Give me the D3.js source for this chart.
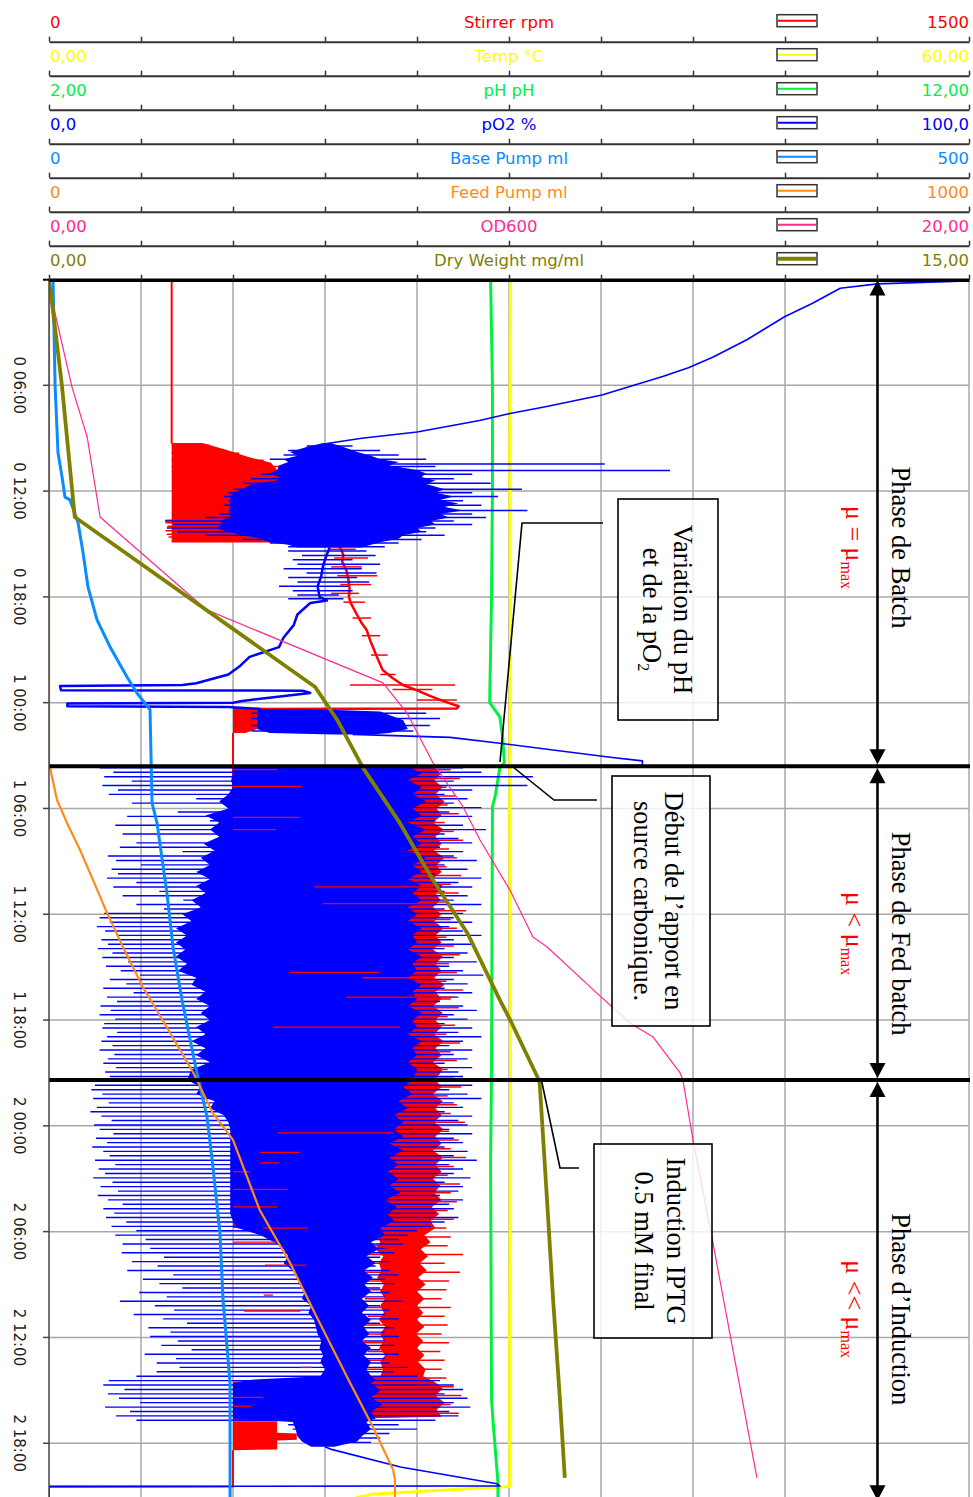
<!DOCTYPE html>
<html>
<head>
<meta charset="utf-8">
<script src="https://cdn.jsdelivr.net/npm/d3@7"></script>
<style>
  body { margin: 0; background: #fff; }
  svg { display: block; }
</style>
</head>
<body>
<div id="chart"></div>
<script>
// ---- series definitions (top scale rows) ----
const seriesNames = ["Stirrer rpm", "Temp °C", "pH pH", "pO2 %", "Base Pump ml", "Feed Pump ml", "OD600", "Dry Weight mg/ml"];
const seriesMin = [0, 0, 2, 0, 0, 0, 0, 0];
const seriesMax = [1500, 60, 12, 100, 500, 1000, 20, 15];
const minLabels = ["0", "0,00", "2,00", "0,0", "0", "0", "0,00", "0,00"];
const maxLabels = ["1500", "60,00", "12,00", "100,0", "500", "1000", "20,00", "15,00"];
const seriesColors = ["#ff0000", "#ffff00", "#00f040", "#0000ff", "#0a8cff", "#ff8a1c", "#ff2a94", "#808000"];

// time axis (hours from start)
const timeTickHours = [6, 12, 18, 24, 30, 36, 42, 48, 54, 60, 66];
const timeTickLabels = ["0 06:00", "0 12:00", "0 18:00", "1 00:00", "1 06:00", "1 12:00", "1 18:00", "2 00:00", "2 06:00", "2 12:00", "2 18:00"];
const phaseBounds = [0, 27.6, 45.4, 69.35];
const phaseNames = ["Phase de Batch", "Phase de Fed batch", "Phase d\u2019Induction"];
const phaseRates = [" = ", " < ", " << "];
const phaseLabelHours = [15.2, 37.1, 58.4];

// ---- Stirrer (rpm) ----
const stirrerSteady = [[0, 200], [9.3, 200]];
const stirrerBandBatch = [[9.27, 200, 250], [9.67, 200, 290], [10.06, 200, 325], [10.4, 200, 362], [10.8, 200, 372], [11.5, 200, 380], [14.5, 200, 380], [14.87, 200, 400]];
const stirrerSpikesBatch = [[9.4, 200, 262], [9.85, 200, 310], [10.25, 200, 350], [10.6, 200, 376], [13.65, 191, 300], [13.8, 190, 330], [14.0, 193, 260], [14.25, 190, 310], [14.45, 192, 350], [14.6, 195, 280], [14.87, 200, 395]];
const stirrerRamp = [[14.87, 400], [14.95, 470], [15.3, 476], [15.62, 480], [16.0, 478], [16.5, 485], [17.0, 488], [17.5, 490], [18.0, 489], [18.35, 492], [19.0, 502], [19.5, 510], [19.88, 518], [20.5, 524], [21.0, 530], [21.6, 537], [22.15, 544], [22.6, 560], [23.0, 577], [23.3, 600], [23.6, 620], [23.9, 642], [24.2, 668], [24.33, 665], [24.36, 300]];
const stirrerSpikesRamp = [[15.3, 455, 500], [15.8, 465, 520], [16.3, 460, 510], [16.8, 470, 535], [17.3, 475, 525], [17.8, 460, 505], [18.3, 480, 515], [19.2, 495, 525], [20.2, 510, 540], [21.3, 525, 552], [22.4, 540, 565], [23.0, 491, 662], [23.25, 560, 625], [23.85, 600, 665]];
const stirrerBandBlock = [[24.36, 300, 339], [25.5, 300, 339], [25.72, 300, 320]];
const stirrerHold = [[25.72, 300], [29.5, 300], [29.52, 339], [29.56, 300], [30.5, 300]];
const stirrerBandCycling = [
  [27.6, 300, 625], [28.0, 300, 640], [28.4, 300, 628], [28.8, 300, 642], [29.2, 300, 630], [29.6, 300, 645], [30.0, 300, 632],
  [30.4, 300, 640], [30.8, 300, 626], [31.2, 300, 643], [31.6, 300, 630], [32.0, 300, 640], [32.4, 300, 628], [32.8, 300, 645],
  [33.2, 300, 632], [33.6, 300, 640], [34.0, 300, 625], [34.4, 300, 642], [34.8, 300, 630], [35.2, 300, 638], [35.6, 300, 626],
  [36.0, 300, 640], [36.4, 300, 628], [36.8, 300, 643], [37.2, 300, 630], [37.6, 300, 640], [38.0, 300, 626], [38.4, 300, 642],
  [38.8, 300, 630], [39.2, 300, 640], [39.6, 300, 628], [40.0, 300, 645], [40.4, 300, 630], [40.8, 300, 640], [41.2, 300, 626],
  [41.6, 300, 642], [42.0, 300, 630], [42.4, 300, 640], [42.8, 300, 628], [43.2, 300, 643], [43.6, 300, 630], [44.0, 300, 640],
  [44.4, 300, 626], [44.8, 300, 642], [45.4, 300, 630], [45.8, 300, 640], [46.2, 300, 626], [46.6, 300, 642], [47.0, 300, 630],
  [47.4, 300, 640], [47.8, 300, 628], [48.2, 300, 643], [48.6, 300, 630], [49.0, 300, 640], [49.4, 300, 626], [49.8, 300, 642],
  [50.2, 300, 630], [50.6, 300, 640], [51.0, 300, 626], [51.4, 300, 638], [51.8, 300, 628], [52.2, 300, 640], [52.6, 300, 624],
  [53.0, 300, 636], [53.4, 300, 622], [53.8, 300, 630], [54.2, 535, 612], [54.6, 540, 622], [55.0, 532, 606], [55.4, 545, 618],
  [55.8, 538, 604], [56.2, 542, 616], [56.6, 535, 602], [57.0, 546, 614], [57.4, 540, 600], [57.8, 548, 612], [58.2, 540, 600],
  [58.6, 546, 610], [59.0, 538, 600], [59.4, 548, 612], [59.8, 540, 598], [60.2, 546, 610], [60.6, 538, 600], [61.0, 548, 612],
  [61.4, 540, 602], [61.8, 545, 614], [62.2, 540, 610], [62.5, 300, 628], [62.9, 300, 642], [63.3, 300, 630], [63.7, 300, 645],
  [64.1, 300, 632], [64.5, 300, 640], [64.7, 300, 372]
];
const stirrerSpikesCycling = [
  [27.8, 600, 655], [28.3, 590, 670], [28.8, 610, 648], [29.3, 600, 662], [29.8, 580, 650], [30.3, 605, 668],
  [30.8, 590, 645], [31.3, 610, 660], [31.8, 600, 675], [32.3, 585, 652], [32.8, 610, 665], [33.3, 600, 648],
  [33.8, 590, 672], [34.3, 605, 655], [34.8, 600, 668], [35.3, 590, 650], [35.8, 610, 680], [36.3, 600, 655],
  [36.8, 595, 665], [37.3, 605, 648], [37.8, 590, 660], [38.3, 600, 670], [38.8, 610, 652], [39.3, 595, 665],
  [39.8, 600, 648], [40.3, 605, 675], [40.8, 590, 655], [41.3, 600, 668], [41.8, 610, 650], [42.3, 595, 662],
  [42.8, 600, 648], [43.3, 605, 670], [43.8, 590, 655], [44.3, 600, 665], [44.8, 610, 650], [45.3, 595, 660],
  [45.8, 600, 672], [46.3, 605, 650], [46.8, 590, 665], [47.3, 600, 655], [47.8, 610, 678], [48.3, 595, 652],
  [48.8, 600, 668], [49.3, 605, 655], [49.8, 590, 680], [50.3, 600, 660], [50.8, 610, 650], [51.3, 595, 670],
  [51.8, 600, 655], [52.3, 605, 665], [52.8, 590, 650], [53.3, 600, 660], [53.8, 595, 648], [54.3, 590, 655],
  [54.8, 515, 650], [55.3, 510, 675], [55.8, 525, 645], [56.3, 508, 670], [56.8, 520, 652], [57.3, 505, 648],
  [57.8, 515, 640], [58.3, 510, 655], [58.8, 520, 645], [59.3, 508, 650], [59.8, 515, 640], [60.3, 510, 652],
  [60.8, 520, 638], [61.3, 508, 645], [61.8, 512, 640], [62.3, 520, 648], [62.8, 590, 660], [63.3, 600, 672],
  [63.8, 595, 655], [64.3, 600, 668]
];
const stirrerBandEnd = [[64.75, 300, 372], [65.4, 300, 372], [65.45, 300, 404], [65.8, 300, 404], [65.85, 300, 372], [66.35, 300, 372], [66.4, 300, 300]];
const stirrerTail = [[66.4, 300], [68.45, 300], [68.47, 0], [69.1, 0]];
// red strokes seen on top of the pO2 cloud
const stirrerOverlay = [[27.8, 300, 372], [28.75, 300, 412], [30.5, 300, 409], [31.2, 300, 370], [34.45, 433, 626], [35.4, 446, 626],
  [39.3, 392, 539], [39.6, 510, 626], [40.7, 485, 660], [42.4, 365, 572], [48.4, 372, 561], [49.5, 344, 409], [50.1, 344, 375],
  [50.6, 300, 328], [51.6, 300, 388], [52.6, 300, 372], [53.8, 349, 422], [54.6, 300, 370], [55.9, 352, 420], [57.6, 350, 365],
  [58.5, 318, 410], [61.7, 410, 428], [63.4, 300, 349], [63.9, 300, 330]];

// ---- Temperature (°C) ----
const tempSeries = [[0, 20], [0.03, 25], [0.06, 30.1], [10, 30.05], [20, 30.1], [30, 30.05], [45, 30.1], [60, 30.05], [68.45, 30.05], [68.6, 27], [68.9, 21], [69.1, 20]];

// ---- pH ----
const phSeries = [[0, 6.80], [6, 6.82], [12, 6.82], [18, 6.81], [24.0, 6.79], [24.8, 6.90], [25.9, 6.93], [27.4, 6.95], [27.7, 6.90], [29.3, 6.85], [29.9, 6.82], [45, 6.81], [50, 6.80], [63.5, 6.81], [65, 6.83], [68.2, 6.88], [69.1, 6.88]];

// ---- pO2 (%) ----
const pO2Decline = [[0, 100], [0.1, 99], [0.25, 90], [0.5, 86], [1.35, 83], [2.1, 80], [3.4, 75.9], [4.4, 72.2], [5.0, 69.5], [5.5, 66.7], [6.55, 60.1], [7.2, 54.1], [7.6, 50.1], [8.0, 46.8], [8.65, 40], [9.0, 34], [9.3, 30.2]];
const pO2BandBatch = [[9.27, 29.8, 30.6], [9.5, 28, 32], [9.78, 26.2, 33.5], [10.0, 27, 35], [10.2, 25.5, 36], [10.35, 26, 38], [10.55, 25, 37],
  [10.8, 24.8, 40], [11.0, 24, 41], [11.2, 25, 40.5], [11.4, 24.8, 42], [11.6, 22, 41], [11.9, 21, 43], [12.1, 20, 42], [12.3, 19.7, 44],
  [12.5, 19.7, 42.5], [12.7, 19.7, 44.5], [12.9, 19.7, 43], [13.1, 19.7, 45], [13.3, 19.7, 42.5], [13.5, 19.7, 43.5], [13.7, 18.5, 41.5],
  [13.9, 19, 42], [14.1, 18, 40], [14.3, 19.5, 40.5], [14.5, 21, 38.5], [14.7, 23, 38], [14.9, 24, 36], [15.05, 26, 35], [15.2, 27, 34]];
const pO2SpikesBatch = [
  [9.45, 28, 33], [9.7, 26, 36], [9.95, 25.5, 38], [10.2, 24, 41], [10.47, 27, 60.4], [10.6, 25, 42], [10.83, 30, 67.5],
  [11.05, 23, 46], [11.3, 22, 44], [11.55, 21, 48], [11.9, 20, 51.4], [12.1, 19.5, 46], [12.3, 19, 48.8], [12.55, 19.5, 45],
  [12.8, 19, 47], [13.1, 19.5, 52], [13.3, 18.5, 46], [13.5, 17, 47.5], [13.7, 12.6, 44], [13.9, 13.5, 46], [14.1, 12.8, 42],
  [14.3, 14, 41], [14.5, 17, 43], [14.75, 21, 40.5], [14.95, 24, 38], [15.15, 26, 36.5],
  [15.4, 26, 34.5], [15.65, 27.5, 35.5], [15.9, 26.5, 33], [16.15, 27, 36], [16.4, 25.5, 34], [16.65, 28, 35.6],
  [16.9, 26, 33.5], [17.15, 27, 34.8], [17.4, 25, 32.5], [17.65, 26.5, 33], [17.9, 27, 31.5], [18.1, 26, 32]
];
const pO2Drift = [[15.2, 30.5], [15.6, 30.2], [16.2, 29.8], [16.8, 29.6], [17.4, 29.2], [18.0, 29.4], [18.2, 30.2], [18.35, 28.4], [19.0, 27], [19.6, 26.6], [20.3, 25.5], [20.85, 25], [21.4, 21.8], [21.9, 20.8], [22.4, 19.5], [22.9, 16], [23.0, 14.5], [23.05, 1.2], [23.3, 1.3], [23.32, 27.6], [23.45, 28.4], [23.9, 21], [24.0, 20], [24.05, 2], [24.2, 2], [24.25, 19.5], [24.36, 23]];
const pO2BandBlock = [[24.36, 22.6, 28], [24.5, 22.6, 36], [25.0, 22.6, 38.5], [25.5, 22.6, 39], [25.72, 24, 37], [25.8, 31, 35]];
const pO2SpikesBlock = [[24.6, 22, 41], [24.9, 22, 42.5], [25.3, 22, 41.4], [25.6, 22, 39.6]];
const pO2Recover = [[25.8, 33], [25.97, 43.6], [26.3, 49], [26.7, 55], [27.1, 61], [27.3, 64.5], [27.55, 64.5], [27.6, 40]];
const pO2BandFed = [
  [27.6, 20, 39], [28.0, 20, 40.5], [28.4, 19.8, 39], [28.8, 20, 40.5], [29.2, 19.5, 39.5], [29.6, 18.5, 41], [30.0, 19.5, 39.5],
  [30.4, 17, 40.5], [30.8, 18.5, 39], [31.2, 17.5, 41], [31.6, 18.5, 39.5], [32.0, 16.8, 40.5], [32.4, 18, 39], [32.8, 16.5, 41],
  [33.2, 17.5, 39.5], [33.6, 16, 40.5], [34.0, 17.5, 39], [34.4, 16, 40.5], [34.8, 17, 39.5], [35.2, 15.5, 40.5], [35.6, 16.5, 39],
  [36.0, 14.5, 40], [36.4, 15.5, 39], [36.8, 13.8, 40.5], [37.2, 15, 39.5], [37.6, 13.8, 40], [38.0, 14.8, 39], [38.4, 13.8, 40.5],
  [38.8, 15, 39.5], [39.2, 14, 40], [39.6, 16, 39], [40.0, 15.5, 40.5], [40.4, 17, 39.5], [40.8, 16, 40], [41.2, 17.5, 39],
  [41.6, 16.5, 40.5], [42.0, 17.5, 39.5], [42.4, 16, 40], [42.8, 17, 39], [43.2, 15.5, 40.5], [43.6, 17, 39.5], [44.0, 16, 40],
  [44.4, 17.5, 39], [44.8, 15.5, 40], [45.4, 15, 39.5]
];
const pO2SpikesFed = [
  [27.7, 5.5, 45], [27.95, 7, 47], [28.2, 6, 52.6], [28.45, 9, 44], [28.7, 5.8, 52], [28.95, 7.5, 46], [29.2, 6.5, 43],
  [29.45, 16, 45.5], [29.7, 9, 44], [29.95, 20, 47], [30.2, 14, 43.5], [30.45, 8.5, 46], [30.7, 17.5, 42], [30.95, 7.2, 45],
  [31.2, 12, 47.5], [31.45, 8, 43], [31.7, 19, 44.5], [31.95, 9.5, 46], [32.2, 7.7, 42.5], [32.45, 14.5, 45], [32.7, 6.4, 44],
  [32.95, 7.3, 46.5], [33.2, 10, 43], [33.45, 6.8, 45.5], [33.7, 7.5, 42], [33.95, 6.3, 47], [34.2, 9.5, 44.5], [34.45, 7, 46],
  [34.7, 12, 43], [34.95, 8, 45.5], [35.2, 14.6, 44], [35.45, 9.5, 47], [35.7, 12.5, 43], [35.95, 6, 45], [36.2, 5.5, 44],
  [36.45, 6.6, 46], [36.7, 5.2, 43.5], [36.95, 6.1, 45], [37.2, 7.5, 47], [37.45, 5.7, 44], [37.7, 6.4, 46], [37.95, 5.3, 43],
  [38.2, 6.9, 45.5], [38.45, 5.8, 44], [38.7, 8.6, 46.5], [38.95, 6.2, 43.5], [39.2, 7.8, 45], [39.45, 9.9, 47.2], [39.7, 6.6, 44],
  [39.95, 8.4, 45.5], [40.2, 5.9, 43], [40.45, 9.2, 46], [40.7, 6.3, 44.5], [40.95, 7.4, 42.5], [41.2, 5.6, 45], [41.45, 6.7, 46.5],
  [41.7, 5.5, 44], [41.95, 7.2, 45.5], [42.2, 6.0, 43], [42.45, 5.8, 46], [42.7, 7.4, 44.5], [42.95, 6.3, 47], [43.2, 5.7, 45],
  [43.45, 6.9, 43.5], [43.7, 5.5, 46], [43.95, 7.1, 44], [44.2, 6.4, 45.5], [44.45, 5.9, 43], [44.7, 7.3, 46], [44.95, 6.1, 44.5],
  [45.2, 6.6, 45]
];
const pO2BandInd = [
  [45.4, 15, 39.5], [45.8, 16.5, 38.5], [46.2, 16, 39.5], [46.6, 18, 38], [47.0, 17.5, 39], [47.4, 19, 37.5], [47.8, 19.5, 38.5],
  [48.2, 19.7, 37.5], [48.6, 19.7, 38.5], [49.0, 19.7, 37], [49.4, 19.7, 38.5], [49.8, 19.7, 37], [50.2, 19.7, 38], [50.6, 19.7, 36.8],
  [51.0, 19.7, 38], [51.4, 19.7, 37], [51.8, 19.7, 38.2], [52.2, 19.7, 36.5], [52.6, 19.7, 37.8], [53.0, 19.7, 36.8], [53.4, 20, 37.5],
  [53.8, 20.5, 36], [54.2, 23, 36.5], [54.6, 24.5, 35], [55.0, 25.5, 35.8], [55.4, 26, 34.5], [55.8, 25.5, 35.5], [56.2, 26.5, 34.2],
  [56.6, 27, 35.2], [57.0, 27.2, 34.3], [57.4, 27.8, 35], [57.8, 27.5, 34], [58.2, 28.5, 34.8], [58.6, 28.2, 34], [59.0, 28.8, 35],
  [59.4, 29, 34.2], [59.8, 29.2, 34.8], [60.2, 29.6, 34], [60.6, 29.4, 35], [61.0, 29.8, 34.2], [61.4, 29.5, 35], [61.8, 30, 34.5],
  [62.2, 29.5, 35], [62.4, 22, 35.5], [62.6, 20, 35], [63.0, 20, 36], [63.4, 20, 35], [63.8, 20, 36.2], [64.2, 20, 35], [64.6, 20, 35.5],
  [64.8, 26.5, 34.5], [65.2, 26.8, 35], [65.6, 27, 34], [65.9, 27.5, 33.5], [66.2, 28.5, 31]
];
const pO2SpikesInd = [
  [45.45, 6.2, 44], [45.7, 5.0, 46], [45.95, 4.6, 43.5], [46.2, 5.8, 45.5], [46.45, 4.8, 47], [46.7, 6.5, 44], [46.95, 5.2, 45],
  [47.2, 4.5, 43], [47.45, 5.7, 46], [47.7, 6.8, 44.5], [47.95, 4.9, 45.5], [48.2, 5.5, 43.5], [48.45, 7.0, 46], [48.7, 5.1, 44],
  [48.95, 6.3, 45], [49.2, 4.7, 43], [49.45, 5.9, 45.5], [49.7, 6.6, 44], [49.95, 5.0, 46.5], [50.2, 7.2, 43.5], [50.45, 5.4, 45],
  [50.7, 6.1, 44], [50.95, 4.8, 45.8], [51.2, 6.9, 43], [51.45, 5.6, 45], [51.7, 7.5, 44.5], [51.95, 5.3, 42.5], [52.2, 6.4, 45],
  [52.45, 8.0, 43.5], [52.7, 5.9, 44], [52.95, 7.1, 42], [53.2, 6.2, 44.5], [53.45, 8.4, 43], [53.7, 6.8, 41.5], [53.95, 9.5, 40],
  [54.2, 7.2, 39], [54.45, 10.5, 38], [54.7, 8.0, 38.5], [54.95, 11.0, 36.5], [55.2, 7.9, 37.5], [55.45, 12.5, 36], [55.7, 9.0, 37],
  [55.95, 11.8, 35.5], [56.2, 8.5, 37], [56.45, 13.5, 38], [56.7, 10.2, 36.5], [56.95, 12.0, 37.5], [57.2, 14.5, 36], [57.45, 9.8, 37],
  [57.7, 12.8, 36.5], [57.95, 7.7, 38.5], [58.2, 11.5, 36], [58.45, 13.6, 37], [58.7, 9.2, 36.5], [58.95, 12.4, 38], [59.2, 15.0, 36],
  [59.45, 10.8, 37.5], [59.7, 13.2, 36.5], [59.95, 11.0, 38], [60.2, 14.0, 36.5], [60.45, 12.2, 37.5], [60.7, 15.5, 36],
  [60.95, 10.4, 38], [61.2, 13.8, 36.5], [61.45, 11.7, 37], [61.7, 14.2, 39], [61.95, 11.7, 37.5], [62.2, 9.5, 40], [62.45, 6.5, 42.5],
  [62.7, 5.9, 44], [62.95, 8.2, 45], [63.2, 6.4, 43], [63.45, 7.6, 45.5], [63.7, 9.9, 44], [63.95, 6.1, 45.8], [64.2, 8.8, 43.5],
  [64.45, 7.3, 44.5], [64.7, 9.5, 42], [64.95, 26, 38], [65.2, 26.5, 40], [65.45, 27, 37], [65.7, 27.5, 36], [65.95, 28, 35]
];
const pO2Tail = [[66.2, 30], [66.35, 30.7], [67.35, 38.2], [68.3, 48.7], [68.42, 49], [68.45, 0], [69.1, 0]];

// ---- Base pump (ml) ----
const basePump = [[0, 2.2], [6.0, 3.3], [9.84, 4.9], [11.2, 7.1], [12.34, 8.7], [12.5, 11.4], [13.8, 15.8], [15.5, 18.5], [17.44, 21.2], [19.3, 26.1], [20.84, 33.2], [22.54, 42.4], [23.45, 47.8], [24.25, 53.8], [24.4, 54.9], [29.69, 56.0], [30.82, 58.7], [34.8, 64.1], [37.86, 67.4], [40.86, 72.3], [45.0, 80.4], [47.5, 85.9], [50.33, 89.1], [54.07, 92.9], [57.87, 94.6], [62.58, 98.4], [69.1, 98.4]];

// ---- Feed pump (ml) ----
const feedPump = [[0, 0], [27.6, 0], [27.65, 1.1], [28.5, 4.5], [29.52, 8.7], [30.82, 19.6], [32.35, 33.7], [34.05, 47.8], [35.92, 63], [37.86, 80.4], [40.13, 102], [42.4, 128], [45.0, 157], [47.27, 178], [48.8, 200], [52.77, 229], [55.77, 262], [58.84, 291], [62.24, 324], [65.07, 352], [67.5, 374], [68.07, 376], [69.1, 376]];

// ---- OD600 ----
const od600 = [[0, 0], [1.9, 0.13], [6.1, 0.5], [8.93, 0.83], [13.47, 1.11], [18.74, 3.43], [22.88, 7.26], [24.58, 7.78], [27.42, 8.35], [29.9, 9.0], [31.79, 9.37], [34.63, 10.02], [37.29, 10.52], [37.86, 10.83], [40.47, 11.91], [42.17, 12.63], [42.96, 13.13], [45.0, 13.72], [45.4, 13.78], [48.8, 14.0], [53.74, 14.37], [59.75, 14.8], [67.97, 15.39]];

// ---- Dry weight (mg/ml) ----
const dryWeight = [[0, 0], [1.33, 0.05], [6.0, 0.21], [13.47, 0.42], [23.11, 4.34], [24.98, 4.70], [27.7, 5.12], [30.82, 5.72], [34.06, 6.26], [37.06, 6.82], [40.86, 7.35], [42.0, 7.52], [45.2, 7.96], [45.57, 8.0], [52.2, 8.12], [57.9, 8.22], [63.5, 8.33], [67.97, 8.41]];

// ---------------------------------------------------------------
const W = 973, H = 1497;
const X0 = 49, X1 = 969, TOP = 279.5;
const tMax = 69.05;

const svg = d3.select("#chart").append("svg")
  .attr("width", W).attr("height", H)
  .attr("viewBox", [0, 0, W, H])
  .style("background", "white")
  .style("font-family", "'DejaVu Sans', sans-serif");

const y = d3.scaleLinear().domain([0, tMax]).range([TOP, H]);
const sx = seriesMin.map((m, i) => d3.scaleLinear().domain([m, seriesMax[i]]).range([X0, X1]));
const [xStir, xTemp, xPH, xPO2, xBase, xFeed, xOD, xDW] = sx;
const gridX = d3.scaleLinear().domain([0, 10]).range([X0, X1]);

// grid
const grid = svg.append("g").attr("stroke", "#a8a8a8").attr("stroke-width", 1.5);
grid.selectAll(".gv").data(d3.range(1, 11)).join("line")
  .attr("x1", d => gridX(d)).attr("x2", d => gridX(d))
  .attr("y1", TOP).attr("y2", H);
grid.selectAll(".gh").data(timeTickHours).join("line")
  .attr("x1", X0).attr("x2", X1)
  .attr("y1", d => y(d)).attr("y2", d => y(d));

// data layer
svg.append("clipPath").attr("id", "plotclip")
  .append("rect").attr("x", X0).attr("y", TOP).attr("width", X1 - X0 + 3).attr("height", H - TOP);
const plot = svg.append("g").attr("clip-path", "url(#plotclip)");

const lineOf = sc => d3.line().x(d => sc(d[1])).y(d => y(d[0]));
const bandOf = sc => d3.area().y(d => y(d[0])).x0(d => sc(d[1])).x1(d => sc(d[2]));

function trace(data, sc, color, w) {
  plot.append("path").datum(data)
    .attr("fill", "none").attr("stroke", color).attr("stroke-width", w)
    .attr("stroke-linejoin", "round")
    .attr("d", lineOf(sc));
}
function band(data, sc, color) {
  plot.append("path").datum(data).attr("fill", color).attr("d", bandOf(sc));
}
function spikes(data, sc, color, w) {
  plot.append("g").attr("stroke", color).attr("stroke-width", w)
    .selectAll("line").data(data).join("line")
    .attr("x1", d => sc(d[1])).attr("x2", d => sc(d[2]))
    .attr("y1", d => y(d[0])).attr("y2", d => y(d[0]));
}

// stirrer (drawn first, under pO2)
const red = seriesColors[0];
trace(stirrerSteady, xStir, red, 2);
band(stirrerBandBatch, xStir, red);
spikes(stirrerSpikesBatch, xStir, red, 1.5);
trace(stirrerRamp, xStir, red, 2.5);
spikes(stirrerSpikesRamp, xStir, red, 1.5);
band(stirrerBandBlock, xStir, red);
trace(stirrerHold, xStir, red, 2);
band(stirrerBandCycling, xStir, red);
spikes(stirrerSpikesCycling, xStir, red, 1.5);
band(stirrerBandEnd, xStir, red);
trace(stirrerTail, xStir, red, 2);

// temperature and pH
trace(tempSeries, xTemp, seriesColors[1], 3);
trace(phSeries, xPH, seriesColors[2], 3);

// pO2
const blue = seriesColors[3];
trace(pO2Decline, xPO2, blue, 1.6);
band(pO2BandBatch, xPO2, blue);
spikes(pO2SpikesBatch, xPO2, blue, 1.5);
trace(pO2Drift, xPO2, blue, 2.5);
band(pO2BandBlock, xPO2, blue);
spikes(pO2SpikesBlock, xPO2, blue, 1.5);
trace(pO2Recover, xPO2, blue, 1.6);
band(pO2BandFed, xPO2, blue);
spikes(pO2SpikesFed, xPO2, blue, 1.4);
band(pO2BandInd, xPO2, blue);
spikes(pO2SpikesInd, xPO2, blue, 1.4);
trace(pO2Tail, xPO2, blue, 1.6);

spikes(stirrerOverlay, xStir, red, 1.3);

// pumps, OD, dry weight
trace(basePump, xBase, seriesColors[4], 3);
trace(feedPump, xFeed, seriesColors[5], 2.2);
trace(od600, xOD, seriesColors[6], 1.2);
trace(dryWeight, xDW, seriesColors[7], 3.8);

// ---- annotations ----
const serif = "'Liberation Serif', 'Times New Roman', serif";
const notes = [
  { box: [618, 499, 100, 221], leader: [[603, 523], [522, 523], [500, 762]], lines: [["Variation du pH", 674], ["et de la pO", 643, "2"]], cy: 609.5 },
  { box: [612, 776, 98, 250], leader: [[597, 800], [554, 800], [513, 767]], lines: [["Début de l\u2019apport en", 665], ["source carbonique.", 634]], cy: 901 },
  { box: [594, 1144, 118, 194], leader: [[579, 1168], [560, 1168], [541, 1078]], lines: [["Induction IPTG", 667], ["0.5 mM final", 635]], cy: 1241 }
];
const ann = svg.append("g");
notes.forEach(n => {
  ann.append("rect")
    .attr("x", n.box[0]).attr("y", n.box[1]).attr("width", n.box[2]).attr("height", n.box[3])
    .attr("fill", "white").attr("fill-opacity", 0.82)
    .attr("stroke", "black").attr("stroke-width", 1.6);
  ann.append("path").attr("d", d3.line()(n.leader))
    .attr("fill", "none").attr("stroke", "black").attr("stroke-width", 1.6);
  n.lines.forEach(l => {
    const t = ann.append("text")
      .attr("transform", `translate(${l[1]},${n.cy}) rotate(90)`)
      .attr("text-anchor", "middle")
      .attr("font-family", serif).attr("font-size", 26.5).attr("fill", "black")
      .text(l[0]);
    if (l[2]) t.append("tspan").attr("font-size", 16).attr("dy", 5).text(l[2]);
  });
});

// phase separators
const sep = svg.append("g").attr("stroke", "black");
sep.selectAll("line").data(phaseBounds.slice(1, 3)).join("line")
  .attr("x1", X0).attr("x2", X1 + 1)
  .attr("y1", d => y(d)).attr("y2", d => y(d))
  .attr("stroke-width", 4);

// phase arrows & labels
const AX = 877.5;
const arrows = svg.append("g");
phaseNames.forEach((name, i) => {
  const ya = y(phaseBounds[i]) + (i === 0 ? 1 : 2);
  const yb = y(phaseBounds[i + 1]) - 2;
  arrows.append("line").attr("x1", AX).attr("x2", AX).attr("y1", ya + 8).attr("y2", yb - 8)
    .attr("stroke", "black").attr("stroke-width", 2.5);
  arrows.append("path").attr("d", `M${AX},${ya}L${AX - 8},${ya + 15}L${AX + 8},${ya + 15}Z`).attr("fill", "black");
  arrows.append("path").attr("d", `M${AX},${yb}L${AX - 8},${yb - 15}L${AX + 8},${yb - 15}Z`).attr("fill", "black");
  arrows.append("text")
    .attr("transform", `translate(892,${y(phaseLabelHours[i])}) rotate(90)`)
    .attr("text-anchor", "middle")
    .attr("font-family", serif).attr("font-size", 26.5).attr("fill", "black")
    .text(name);
  const mu = arrows.append("text")
    .attr("transform", `translate(846,${y(phaseLabelHours[i])}) rotate(90)`)
    .attr("text-anchor", "middle")
    .attr("font-family", serif).attr("font-size", 26).attr("fill", "#ff0000")
    .text("\u03bc" + phaseRates[i] + "\u03bc");
  mu.append("tspan").attr("font-size", 16).attr("dy", 5).text("max");
});

// ---- time axis ----
const tAxis = svg.append("g");
tAxis.append("line").attr("x1", X0).attr("x2", X0).attr("y1", TOP).attr("y2", H)
  .attr("stroke", "#444").attr("stroke-width", 1.5);
tAxis.selectAll(".tk").data(timeTickHours).join("line")
  .attr("x1", X0 - 6).attr("x2", X0)
  .attr("y1", d => y(d)).attr("y2", d => y(d))
  .attr("stroke", "#444").attr("stroke-width", 1.5);
tAxis.selectAll("text").data(timeTickHours).join("text")
  .attr("transform", d => `translate(14,${y(d)}) rotate(90)`)
  .attr("text-anchor", "middle")
  .attr("font-size", 15).attr("fill", "#222")
  .text((d, i) => timeTickLabels[i]);

// ---- top scale rows ----
const rows = svg.append("g");
seriesNames.forEach((name, i) => {
  const yl = 41.7 + 34 * i;
  const last = i === seriesNames.length - 1;
  const ax = rows.append("g").attr("transform", `translate(0,${yl})`)
    .call(d3.axisTop(gridX).ticks(10).tickSize(5).tickSizeOuter(0).tickFormat(""));
  ax.select(".domain").attr("stroke", last ? "black" : "#333").attr("stroke-width", last ? 3.5 : 2);
  ax.selectAll(".tick line").attr("stroke", "#333").attr("stroke-width", 1.5);
  if (last) {
    rows.append("line").attr("x1", X0 - 6).attr("x2", X0).attr("y1", yl).attr("y2", yl)
      .attr("stroke", "black").attr("stroke-width", 2);
  }
  const col = seriesColors[i];
  rows.append("text").attr("x", 50).attr("y", yl - 14).attr("font-size", 16.5).attr("fill", col).text(minLabels[i]);
  rows.append("text").attr("x", 509).attr("y", yl - 14).attr("text-anchor", "middle").attr("font-size", 16.5).attr("fill", col).text(name);
  rows.append("text").attr("x", 969).attr("y", yl - 14).attr("text-anchor", "end").attr("font-size", 16.5).attr("fill", col).text(maxLabels[i]);
  rows.append("rect").attr("x", 777).attr("y", yl - 27).attr("width", 40).attr("height", 12)
    .attr("fill", "white").attr("stroke", "#333").attr("stroke-width", 1.5);
  rows.append("line").attr("x1", 778).attr("x2", 816).attr("y1", yl - 21).attr("y2", yl - 21)
    .attr("stroke", col).attr("stroke-width", last ? 4 : 2);
});
</script>
</body>
</html>
